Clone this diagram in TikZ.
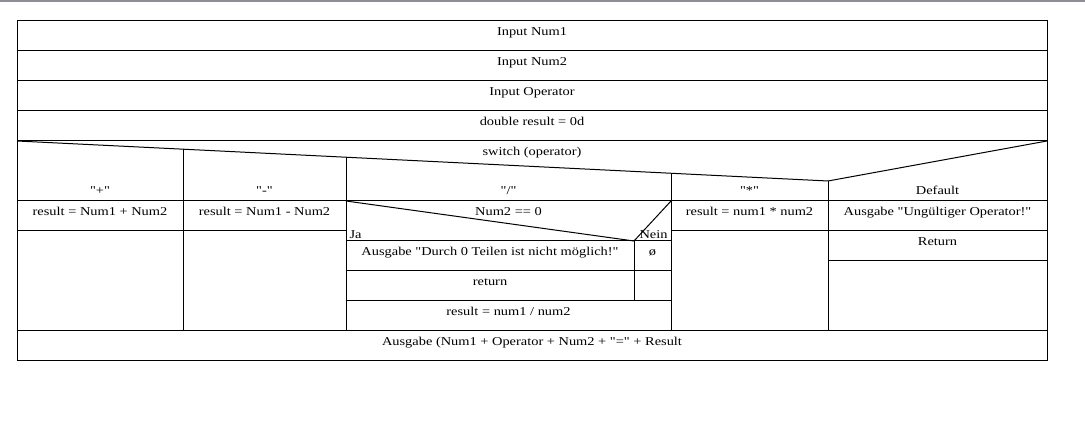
\documentclass[tikz,border=0pt]{standalone}
\usepackage{fontspec}
\setmainfont{Liberation Serif}[FakeStretch=1.2, Ligatures=TeXOff]
\usepackage{tikz}

\tikzset{
  txt/.style={anchor=base, inner sep=0pt, font=\fontsize{12}{14}\selectfont},
}
\definecolor{framegray}{RGB}{140,144,150}

\begin{document}
\begin{tikzpicture}[x=1pt, y=-1pt, line width=1pt]
\useasboundingbox (0,0) rectangle (1085,435);
\draw [framegray, line width=2pt] (0,1) -- (1085,1);
% outer frame and full rows
\draw (17,21) rectangle (1047,361);
\draw (17,51) -- (1047,51);
\draw (17,81) -- (1047,81);
\draw (17,111) -- (1047,111);
\draw (17,141) -- (1047,141);
\draw (17,201) -- (1047,201);
\draw (17,331) -- (1047,331);
% switch
\draw (17,141) -- (828,181) -- (1047,141);
\draw (183,149.2) -- (183,331);
\draw (346,157.2) -- (346,331);
\draw (671,173.2) -- (671,331);
\draw (828,181) -- (828,331);
\draw (17,231) -- (346,231);
\draw (671,231) -- (1047,231);
\draw (828,261) -- (1047,261);
% if inside "/"
\draw (346,201) -- (634,241) -- (671,201);
\draw (346,241) -- (671,241);
\draw (346,271) -- (671,271);
\draw (346,301) -- (671,301);
\draw (634,241) -- (634,301);
% texts
\node [txt] (num1) at (532,36) {Input Num1};
\node [txt] (num2) at (532,66) {Input Num2};
\node [txt] (op) at (532,96) {Input Operator};
\node [txt] (res) at (532,126) {double result = 0d};
\node [txt] (sw) at (532,156) {switch (operator)};
\node [txt] (cplus) at (100,195) {"+"};
\node [txt] (cminus) at (264.5,195) {"-"};
\node [txt] (cdiv) at (508.5,195) {"/"};
\node [txt] (cmul) at (749.5,195) {"*"};
\node [txt] (cdef) at (937.5,195) {Default};
\node [txt] (rplus) at (100,216) {result = Num1 + Num2};
\node [txt] (rminus) at (264.5,216) {result = Num1 - Num2};
\node [txt] (cond) at (508.5,216) {Num2 == 0};
\node [txt] (rmul) at (749.5,216) {result = num1 * num2};
\node [txt] (odef) at (937.5,216) {Ausgabe "Ungültiger Operator!"};
\node [txt] (retdef) at (937.5,246) {Return};
\node [txt, anchor=base west] (ja) at (349,239) {Ja};
\node [txt, anchor=base east] (nein) at (668,239) {Nein};
\node [txt] (odiv) at (490,256) {Ausgabe "Durch 0 Teilen ist nicht möglich!"};
\node [txt] (empty) at (652.5,256) {ø};
\node [txt] (retdiv) at (490,286) {return};
\node [txt] (rdiv) at (508.5,316) {result = num1 / num2};
\node [txt] (out) at (532,346) {Ausgabe (Num1 + Operator + Num2 + "=" + Result};
\end{tikzpicture}
\end{document}
